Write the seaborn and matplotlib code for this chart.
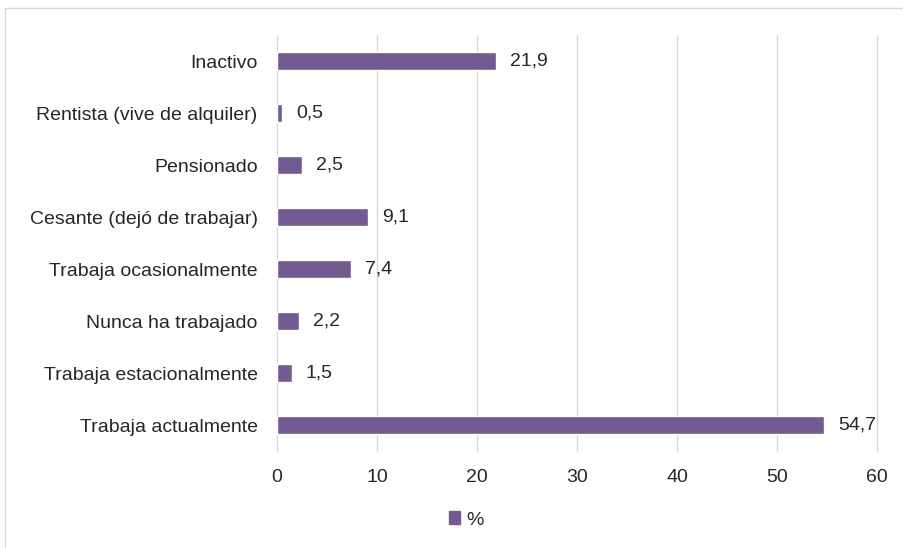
import matplotlib
matplotlib.use("Agg")
import matplotlib.pyplot as plt
import seaborn as sns
import pandas as pd
from matplotlib.patches import Rectangle

categories = ["Inactivo", "Rentista (vive de alquiler)", "Pensionado",
              "Cesante (dejó de trabajar)", "Trabaja ocasionalmente",
              "Nunca ha trabajado", "Trabaja estacionalmente", "Trabaja actualmente"]
values = [21.9, 0.5, 2.5, 9.1, 7.4, 2.2, 1.5, 54.7]
xticks = [0, 10, 20, 30, 40, 50, 60]
series_name = "%"

sns.set_theme(style="white")
plt.rcParams['font.family'] = ['Liberation Sans', 'DejaVu Sans']

W, H = 904, 548
FS = 14
fig = plt.figure(figsize=(W/100, H/100), dpi=100)
ax = fig.add_axes([277/W, 1-451/H, 600/W, 416/H])

df = pd.DataFrame({"cat": categories, "val": values})
color = "#735a91"
sns.barplot(data=df, y="cat", x="val", orient="h", color=color, width=0.35,
            saturation=1, ax=ax, zorder=3)

ax.set_xlim(0, 60)
ax.set_xticks(xticks)
ax.set_xticklabels([str(t) for t in xticks], fontsize=FS, color="#262626")
ax.tick_params(axis="y", labelsize=FS, labelcolor="#262626", length=0, pad=14)
ax.tick_params(axis="x", length=0, pad=13)
ax.set_xlabel("")
ax.set_ylabel("")
ax.grid(axis="x", color="#d9d9d9", linewidth=1, zorder=0)
for gl in ax.get_xgridlines():
    gl.set_clip_on(False)
ax.set_axisbelow(True)
for s in ax.spines.values():
    s.set_visible(False)

for i, v in enumerate(values):
    ax.text(v + 1.4, i, f"{v:.1f}".replace(".", ","), va="center", ha="left",
            fontsize=FS, color="#262626")

handle = Rectangle((0, 0), 1, 1, color=color)
fig.legend([handle], [series_name], loc="center", bbox_to_anchor=(466/W, 1-520/H),
           frameon=False, fontsize=FS, handlelength=0.6, handleheight=0.6,
           handletextpad=0.3)

fig.patches.append(Rectangle((5/W, -0.01), 1.0, 1-8/H + 0.01, transform=fig.transFigure,
                             fill=False, edgecolor="#d9d9d9", linewidth=1))

fig.savefig("out.png", dpi=100)
